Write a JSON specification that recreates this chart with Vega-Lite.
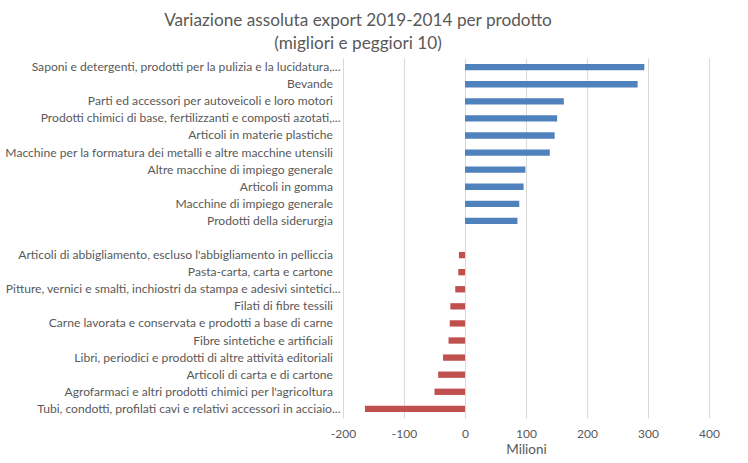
{
  "$schema": "https://vega.github.io/schema/vega-lite/v6.json",
  "width": 366,
  "height": 360,
  "autosize": "none",
  "padding": {"left": 343, "top": 58, "right": 39, "bottom": 45},
  "background": "white",
  "title": {
    "text": ["Variazione assoluta export 2019-2014 per prodotto", "(migliori e peggiori 10)"],
    "font": "Lato",
    "fontSize": 17.2,
    "fontWeight": "normal",
    "color": "#595959",
    "anchor": "middle",
    "frame": "group",
    "dx": -168,
    "offset": 6,
    "lineHeight": 23
  },
  "data": {
    "values": [
      {"prodotto": "Saponi e detergenti, prodotti per la pulizia e la lucidatura,...", "valore": 294, "gruppo": "migliori"},
      {"prodotto": "Bevande\u2002\u2009\u200b", "valore": 283, "gruppo": "migliori"},
      {"prodotto": "Parti ed accessori per autoveicoli e loro motori\u2002\u2009\u200b", "valore": 162, "gruppo": "migliori"},
      {"prodotto": "Prodotti chimici di base, fertilizzanti e composti azotati,...", "valore": 151, "gruppo": "migliori"},
      {"prodotto": "Articoli in materie plastiche\u2002\u2009\u200b", "valore": 147, "gruppo": "migliori"},
      {"prodotto": "Macchine per la formatura dei metalli e altre macchine utensili\u2002\u2009\u200b", "valore": 139, "gruppo": "migliori"},
      {"prodotto": "Altre macchine di impiego generale\u2002\u2009\u200b", "valore": 99, "gruppo": "migliori"},
      {"prodotto": "Articoli in gomma\u2002\u2009\u200b", "valore": 96, "gruppo": "migliori"},
      {"prodotto": "Macchine di impiego generale\u2002\u2009\u200b", "valore": 89, "gruppo": "migliori"},
      {"prodotto": "Prodotti della siderurgia\u2002\u2009\u200b", "valore": 86, "gruppo": "migliori"},
      {"prodotto": "Articoli di abbigliamento, escluso l'abbigliamento in pelliccia\u2002\u2009\u200b", "valore": -10, "gruppo": "peggiori"},
      {"prodotto": "Pasta-carta, carta e cartone\u2002\u2009\u200b", "valore": -11, "gruppo": "peggiori"},
      {"prodotto": "Pitture, vernici e smalti, inchiostri da stampa e adesivi sintetici...", "valore": -16, "gruppo": "peggiori"},
      {"prodotto": "Filati di fibre tessili\u2002\u2009\u200b", "valore": -24, "gruppo": "peggiori"},
      {"prodotto": "Carne lavorata e conservata e prodotti a base di carne\u2002\u2009\u200b", "valore": -25, "gruppo": "peggiori"},
      {"prodotto": "Fibre sintetiche e artificiali\u2002\u2009\u200b", "valore": -27, "gruppo": "peggiori"},
      {"prodotto": "Libri, periodici e prodotti di altre attività editoriali\u2002\u2009\u200b", "valore": -36, "gruppo": "peggiori"},
      {"prodotto": "Articoli di carta e di cartone\u2002\u2009\u200b", "valore": -44, "gruppo": "peggiori"},
      {"prodotto": "Agrofarmaci e altri prodotti chimici per l'agricoltura\u2002\u2009\u200b", "valore": -50, "gruppo": "peggiori"},
      {"prodotto": "Tubi, condotti, profilati cavi e relativi accessori in acciaio...", "valore": -164, "gruppo": "peggiori"}
    ]
  },
  "mark": {"type": "bar"},
  "encoding": {
    "y": {
      "field": "prodotto",
      "type": "nominal",
      "scale": {
        "domain": [
          "Saponi e detergenti, prodotti per la pulizia e la lucidatura,...",
          "Bevande\u2002\u2009\u200b",
          "Parti ed accessori per autoveicoli e loro motori\u2002\u2009\u200b",
          "Prodotti chimici di base, fertilizzanti e composti azotati,...",
          "Articoli in materie plastiche\u2002\u2009\u200b",
          "Macchine per la formatura dei metalli e altre macchine utensili\u2002\u2009\u200b",
          "Altre macchine di impiego generale\u2002\u2009\u200b",
          "Articoli in gomma\u2002\u2009\u200b",
          "Macchine di impiego generale\u2002\u2009\u200b",
          "Prodotti della siderurgia\u2002\u2009\u200b",
          " ",
          "Articoli di abbigliamento, escluso l'abbigliamento in pelliccia\u2002\u2009\u200b",
          "Pasta-carta, carta e cartone\u2002\u2009\u200b",
          "Pitture, vernici e smalti, inchiostri da stampa e adesivi sintetici...",
          "Filati di fibre tessili\u2002\u2009\u200b",
          "Carne lavorata e conservata e prodotti a base di carne\u2002\u2009\u200b",
          "Fibre sintetiche e artificiali\u2002\u2009\u200b",
          "Libri, periodici e prodotti di altre attività editoriali\u2002\u2009\u200b",
          "Articoli di carta e di cartone\u2002\u2009\u200b",
          "Agrofarmaci e altri prodotti chimici per l'agricoltura\u2002\u2009\u200b",
          "Tubi, condotti, profilati cavi e relativi accessori in acciaio..."
        ],
        "paddingInner": 0.63,
        "paddingOuter": 0.35
      },
      "axis": {
        "title": null,
        "domain": false,
        "ticks": false,
        "grid": false,
        "labelPadding": 3,
        "labelLimit": 400,
        "labelFont": "Lato",
        "labelFontSize": 12.1,
        "labelColor": "#595959"
      }
    },
    "x": {
      "field": "valore",
      "type": "quantitative",
      "scale": {"domain": [-200, 400], "nice": false},
      "axis": {
        "title": "Milioni",
        "values": [-200, -100, 0, 100, 200, 300, 400],
        "labelExpr": "datum.value + ''",
        "labelFlush": false,
        "domain": false,
        "ticks": false,
        "grid": true,
        "gridColor": "#d9d9d9",
        "labelFont": "Lato",
        "labelFontSize": 12,
        "labelColor": "#595959",
        "labelPadding": 10,
        "titleFont": "Lato",
        "titleFontSize": 13.5,
        "titleFontWeight": "normal",
        "titleColor": "#595959",
        "titlePadding": 3
      }
    },
    "color": {
      "field": "gruppo",
      "type": "nominal",
      "scale": {"domain": ["migliori", "peggiori"], "range": ["#4F81BD", "#C0504D"]},
      "legend": null
    }
  },
  "config": {"view": {"stroke": null}}
}
